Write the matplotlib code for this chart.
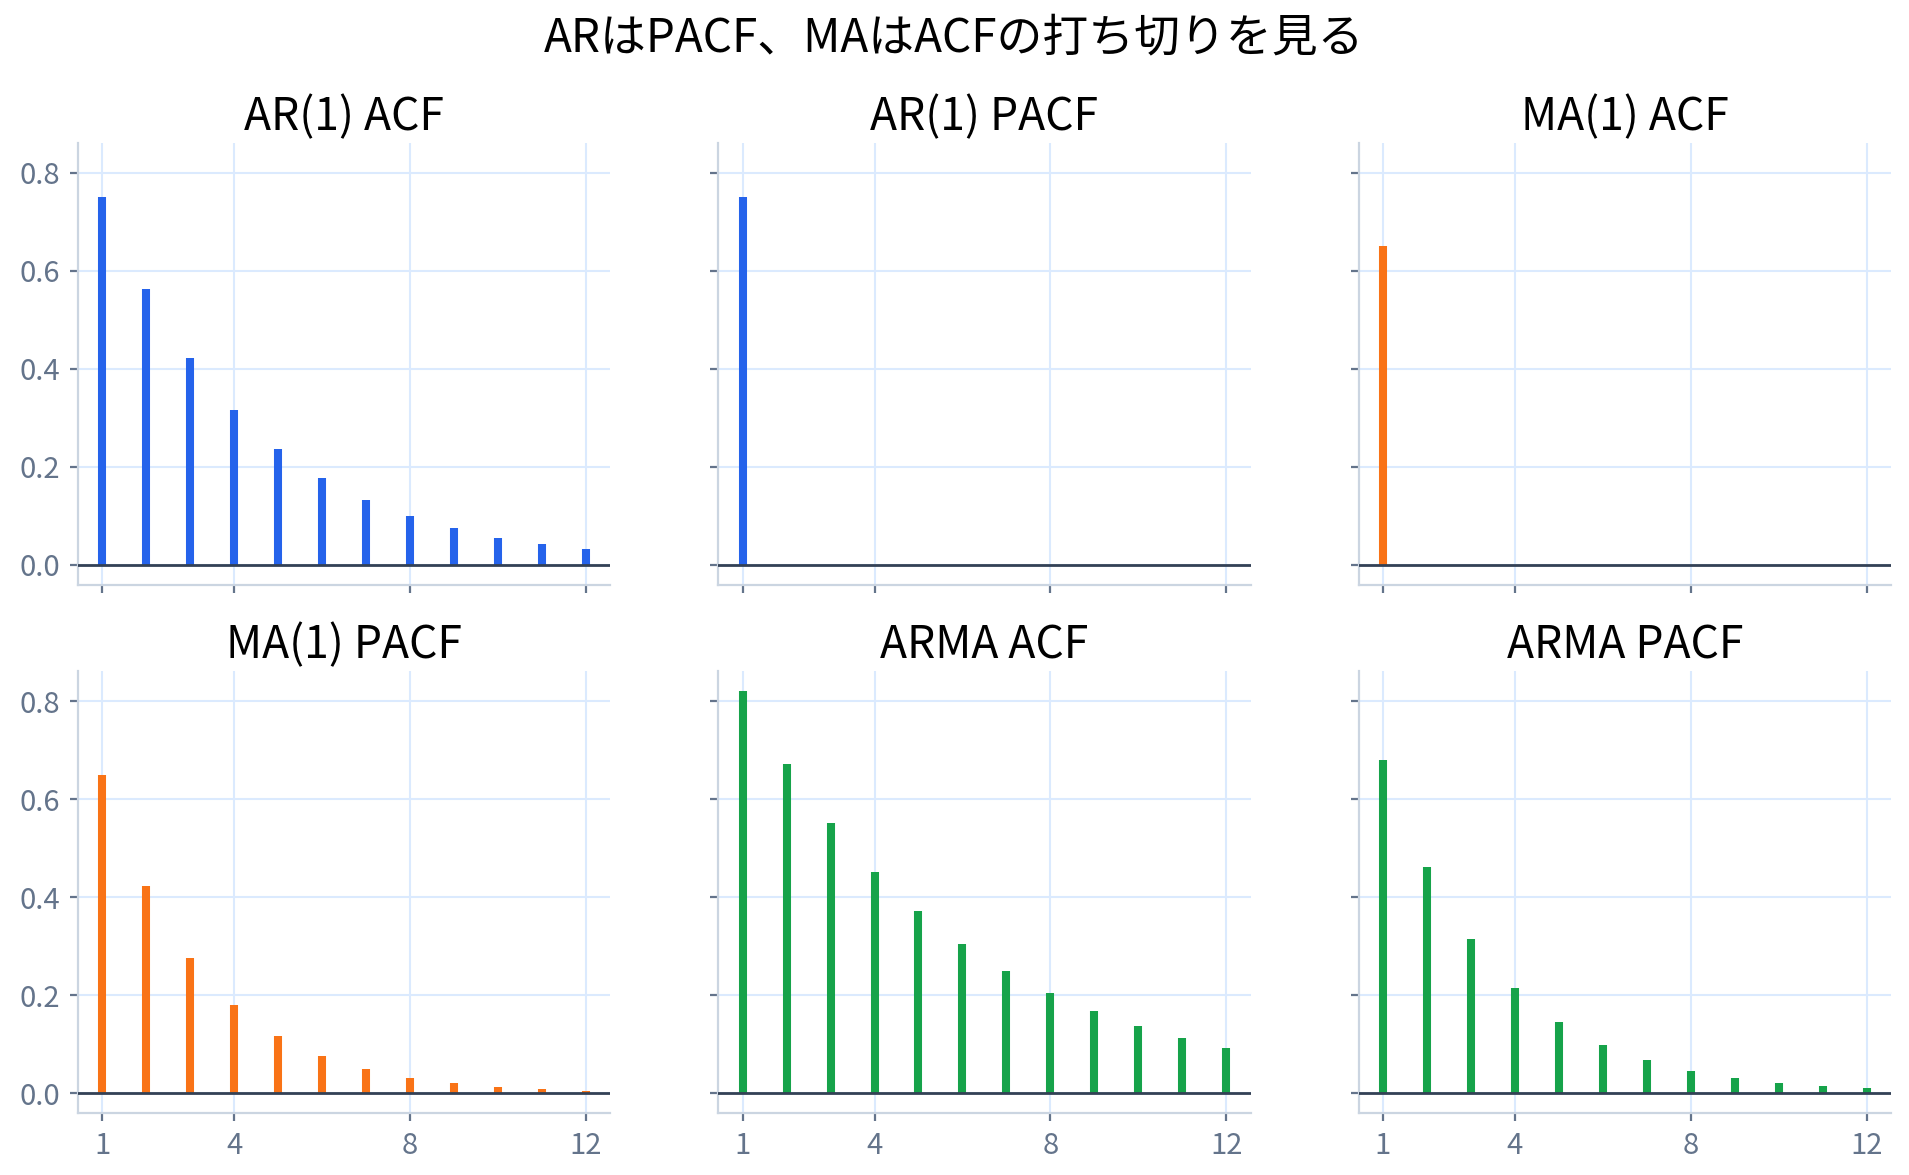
import matplotlib
matplotlib.use('Agg')
import matplotlib.pyplot as plt

plt.rcParams['font.family'] = ['Noto Sans CJK JP', 'DejaVu Sans']

lags = [1, 2, 3, 4, 5, 6, 7, 8, 9, 10, 11, 12]

ar1_acf = [0.75, 0.563, 0.422, 0.316, 0.237, 0.178, 0.133, 0.100, 0.075, 0.056, 0.042, 0.032]
ar1_pacf = [0.75, 0, 0, 0, 0, 0, 0, 0, 0, 0, 0, 0]
ma1_acf = [0.65, 0, 0, 0, 0, 0, 0, 0, 0, 0, 0, 0]
ma1_pacf = [0.65, 0.423, 0.275, 0.179, 0.116, 0.075, 0.049, 0.032, 0.021, 0.013, 0.009, 0.005]
arma_acf = [0.82, 0.672, 0.551, 0.452, 0.371, 0.304, 0.249, 0.204, 0.168, 0.137, 0.113, 0.092]
arma_pacf = [0.68, 0.462, 0.314, 0.214, 0.145, 0.099, 0.067, 0.046, 0.031, 0.021, 0.014, 0.010]

titles = ['AR(1) ACF', 'AR(1) PACF', 'MA(1) ACF', 'MA(1) PACF', 'ARMA ACF', 'ARMA PACF']
series = [ar1_acf, ar1_pacf, ma1_acf, ma1_pacf, arma_acf, arma_pacf]
colors = ['#2563eb', '#2563eb', '#f97316', '#f97316', '#16a34a', '#16a34a']
xticks = [1, 4, 8, 12]
suptitle = 'ARはPACF、MAはACFの打ち切りを見る'

fig, axes = plt.subplots(2, 3, figsize=(9.545, 5.875), dpi=200, sharex=True, sharey=True)
fig.subplots_adjust(left=0.0409, right=0.9905, bottom=0.0525, top=0.8783,
                    wspace=0.203, hspace=0.195)

for ax, title, vals, c in zip(axes.flat, titles, series, colors):
    ax.vlines(lags, 0, vals, color=c, linewidth=2.9, zorder=3)
    ax.axhline(0, color='#334155', linewidth=1.0, zorder=4)
    ax.set_title(title, fontsize=16, pad=4.6)
    ax.set_xticks(xticks)
    ax.grid(True, color='#dbeafe', linewidth=0.75, zorder=0)
    ax.set_axisbelow(True)
    for s in ['top', 'right']:
        ax.spines[s].set_visible(False)
    for s in ['left', 'bottom']:
        ax.spines[s].set_color('#cbd5e1')
        ax.spines[s].set_linewidth(0.8)
    ax.tick_params(colors='#64748b', labelsize=10.5, length=3, width=0.8, pad=3.5)

axes[0, 0].set_yticks([0.0, 0.2, 0.4, 0.6, 0.8])
axes[0, 0].yaxis.set_major_formatter(matplotlib.ticker.FormatStrFormatter('%.1f'))

fig.suptitle(suptitle, fontsize=16.5, y=0.956, va='baseline')

fig.savefig('out.png', dpi=200)
